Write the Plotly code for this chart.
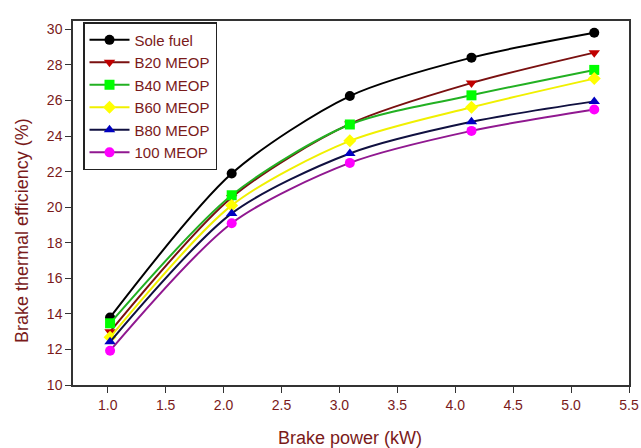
import plotly.graph_objects as go

brake_power = [1.02, 2.07, 3.09, 4.14, 5.20]
series_names = ["Sole fuel", "B20 MEOP", "B40 MEOP", "B60 MEOP", "B80 MEOP", "100 MEOP"]
sole_fuel = [13.80, 21.89, 26.25, 28.41, 29.81]
b20 = [13.00, 20.55, 24.68, 26.98, 28.69]
b40 = [13.47, 20.67, 24.65, 26.29, 27.72]
b60 = [12.68, 20.10, 23.73, 25.62, 27.23]
b80 = [12.43, 19.65, 23.02, 24.80, 25.95]
meop100 = [11.93, 19.10, 22.49, 24.29, 25.49]
x_ticks = [1.0, 1.5, 2.0, 2.5, 3.0, 3.5, 4.0, 4.5, 5.0, 5.5]
y_ticks = [10, 12, 14, 16, 18, 20, 22, 24, 26, 28, 30]

values = [sole_fuel, b20, b40, b60, b80, meop100]
line_colors = ["#000000", "#7a1010", "#22b022", "#f0f000", "#101040", "#901890"]
marker_colors = ["#000000", "#c00000", "#00ff00", "#ffff00", "#0000c0", "#ff00ff"]
symbols = ["circle", "triangle-down", "square", "diamond", "triangle-up", "circle"]

fig = go.Figure()
for name, vals, lc, mc, sym in zip(series_names, values, line_colors, marker_colors, symbols):
    fig.add_trace(go.Scatter(
        x=brake_power, y=vals, name=name, mode="lines+markers",
        line=dict(color=lc, width=2, shape="spline", smoothing=0.8),
        marker=dict(color=mc, symbol=sym, size=10, line=dict(width=0)),
    ))

txt = "#7a1a1a"
fig.update_layout(
    width=641, height=448,
    margin=dict(l=73, r=12, t=21, b=63),
    paper_bgcolor="white", plot_bgcolor="white",
    font=dict(family="Liberation Sans, Arial, sans-serif", color=txt, size=14),
    showlegend=True,
    legend=dict(x=0.018, y=0.997, xanchor="left", yanchor="top",
                bordercolor="#222", borderwidth=1.5, bgcolor="white",
                font=dict(size=15, color=txt), tracegroupgap=0,
                itemwidth=40),
    annotations=[
        dict(text="Brake power (kW)", xref="paper", yref="paper", x=0.498, y=-0.1456,
             xanchor="center", yanchor="middle", showarrow=False,
             font=dict(size=18, color=txt)),
        dict(text="Brake thermal efficiency (%)", xref="paper", yref="paper", x=-0.0917, y=0.423,
             xanchor="center", yanchor="middle", showarrow=False, textangle=-90,
             font=dict(size=18, color=txt)),
    ],
)
fig.update_xaxes(
    range=[0.7, 5.5], tickvals=x_ticks, tickformat=".1f", automargin=False,
    showline=True, linecolor="#333", linewidth=1.5, mirror=True,
    ticks="outside", ticklen=6, tickcolor="#333", showgrid=False, zeroline=False,
    tickfont=dict(size=14, color=txt),
)
fig.update_yaxes(
    range=[10, 30.47], tickvals=y_ticks, automargin=False,
    showline=True, linecolor="#333", linewidth=1.5, mirror=True,
    ticks="outside", ticklen=6, tickcolor="#333", showgrid=False, zeroline=False,
    tickfont=dict(size=14, color=txt),
)
fig.write_html("out.html", config={"displayModeBar": False},
               post_script="document.body.style.margin='0';")
